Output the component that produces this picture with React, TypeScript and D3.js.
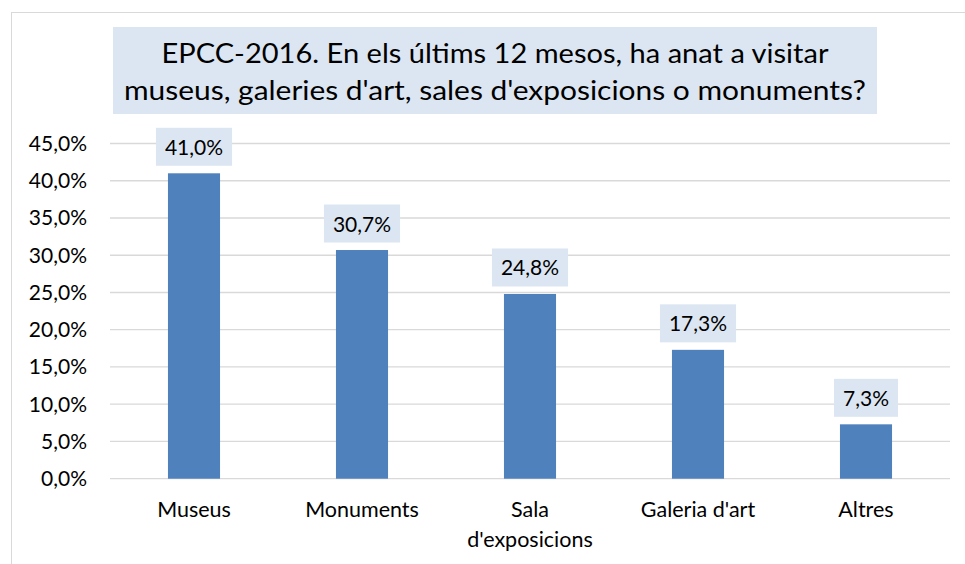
import React, { useEffect, useRef } from "react";
import * as d3 from "d3";

const titleLines = [
  "EPCC-2016. En els últims 12 mesos, ha anat a visitar",
  "museus, galeries d'art, sales d'exposicions o monuments?",
];
const categories = [["Museus"], ["Monuments"], ["Sala", "d'exposicions"], ["Galeria d'art"], ["Altres"]];
const values = [41.0, 30.7, 24.8, 17.3, 7.3];
const yTicks = [0, 5, 10, 15, 20, 25, 30, 35, 40, 45];

const W = 965;
const H = 564;
const FONT = "Lato, 'Open Sans', sans-serif";
const fmt = (v: number) => v.toFixed(1).replace(".", ",") + "%";

export default function App() {
  const ref = useRef<SVGSVGElement>(null);
  useEffect(() => {
    const svg = d3.select(ref.current!);
    svg.selectAll("*").remove();

    const left = 110, right = 950, top = 143.5, bottom = 478.7;
    const x = d3.scaleBand<number>().domain(d3.range(values.length)).range([left, right]).paddingInner(0.69).paddingOuter(0.345);
    const y = d3.scaleLinear().domain([0, 45]).range([bottom, top]);

    svg.append("rect").attr("width", W).attr("height", H).attr("fill", "#fff");
    svg.append("rect").attr("x", 11.5).attr("y", 12.5).attr("width", W).attr("height", H)
      .attr("fill", "none").attr("stroke", "#d9d9d9").attr("stroke-width", 1);

    svg.append("rect").attr("x", 113).attr("y", 27).attr("width", 764).attr("height", 87).attr("fill", "#dce6f2");
    const tl = [667, 742];
    titleLines.forEach((t, i) => {
      svg.append("text").attr("x", 495).attr("y", 63 + i * 37).attr("text-anchor", "middle")
        .attr("font-family", FONT).attr("font-size", 27).attr("fill", "#000")
        .attr("textLength", tl[i]).attr("lengthAdjust", "spacingAndGlyphs").text(t);
    });

    yTicks.forEach((t) => {
      svg.append("line").attr("x1", left).attr("x2", right).attr("y1", y(t)).attr("y2", y(t))
        .attr("stroke", "#d9d9d9").attr("stroke-width", 1.3);
      svg.append("text").attr("x", 87).attr("y", y(t) + 7.5).attr("text-anchor", "end")
        .attr("font-family", FONT).attr("font-size", 21).attr("fill", "#000").text(fmt(t));
    });

    values.forEach((v, i) => {
      const bx = x(i)!;
      svg.append("rect").attr("x", bx).attr("y", y(v)).attr("width", x.bandwidth()).attr("height", y(0) - y(v))
        .attr("fill", "#4f81bd");
      const cx = bx + x.bandwidth() / 2;
      const g = svg.append("g");
      const box = g.append("rect").attr("fill", "#dce6f2");
      const txt = g.append("text").attr("x", cx).attr("y", y(v) - 18.5).attr("text-anchor", "middle")
        .attr("font-family", FONT).attr("font-size", 21).attr("fill", "#000").text(fmt(v));
      const w = (txt.node() as SVGTextElement).getComputedTextLength();
      box.attr("x", cx - w / 2 - 9).attr("y", y(v) - 45.5).attr("width", w + 18).attr("height", 38);
      categories[i].forEach((line, j) => {
        svg.append("text").attr("x", cx).attr("y", 517 + j * 30).attr("text-anchor", "middle")
          .attr("font-family", FONT).attr("font-size", 21.5).attr("fill", "#000").text(line);
      });
    });
  }, []);
  return <svg ref={ref} width={W} height={H} style={{ position: "absolute", left: 0, top: 0 }} />;
}
